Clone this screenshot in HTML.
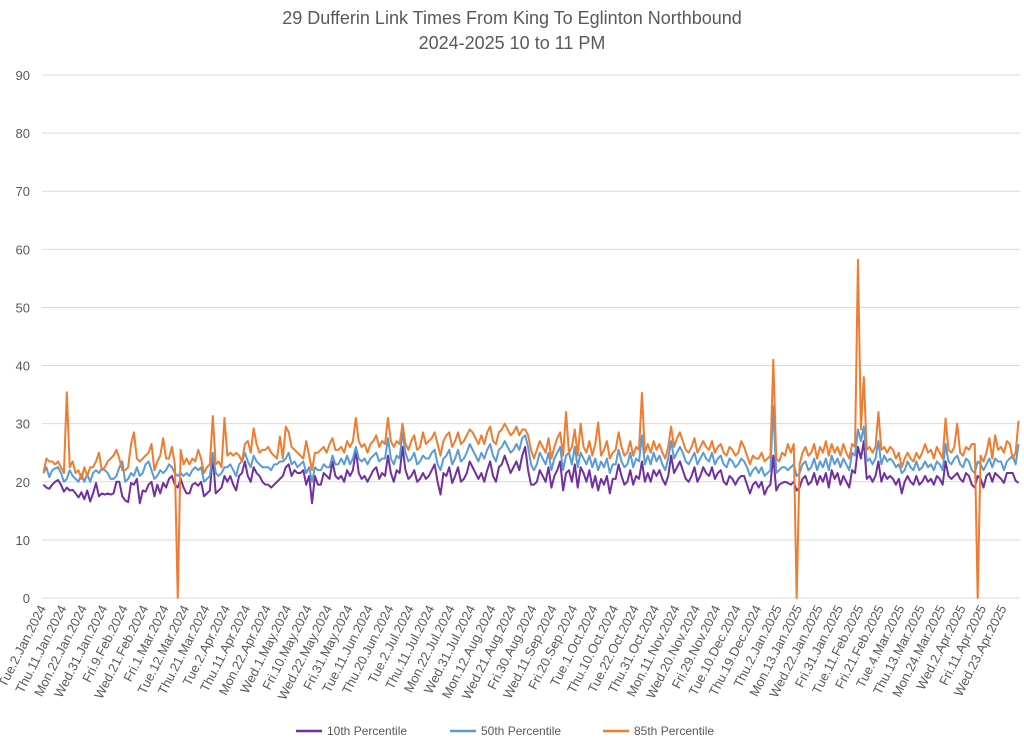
<!DOCTYPE html>
<html><head><meta charset="utf-8"><style>
body{margin:0;background:#fff;}
svg{display:block;font-family:"Liberation Sans",sans-serif;}
</style></head><body>
<svg id="chart" width="1024" height="742"></svg>
<script>
const tickLabels=["Tue.2.Jan.2024","Thu.11.Jan.2024","Mon.22.Jan.2024","Wed.31.Jan.2024","Fri.9.Feb.2024","Wed.21.Feb.2024","Fri.1.Mar.2024","Tue.12.Mar.2024","Thu.21.Mar.2024","Tue.2.Apr.2024","Thu.11.Apr.2024","Mon.22.Apr.2024","Wed.1.May.2024","Fri.10.May.2024","Wed.22.May.2024","Fri.31.May.2024","Tue.11.Jun.2024","Thu.20.Jun.2024","Tue.2.Jul.2024","Thu.11.Jul.2024","Mon.22.Jul.2024","Wed.31.Jul.2024","Mon.12.Aug.2024","Wed.21.Aug.2024","Fri.30.Aug.2024","Wed.11.Sep.2024","Fri.20.Sep.2024","Tue.1.Oct.2024","Thu.10.Oct.2024","Tue.22.Oct.2024","Thu.31.Oct.2024","Mon.11.Nov.2024","Wed.20.Nov.2024","Fri.29.Nov.2024","Tue.10.Dec.2024","Thu.19.Dec.2024","Thu.2.Jan.2025","Mon.13.Jan.2025","Wed.22.Jan.2025","Fri.31.Jan.2025","Tue.11.Feb.2025","Fri.21.Feb.2025","Tue.4.Mar.2025","Thu.13.Mar.2025","Mon.24.Mar.2025","Wed.2.Apr.2025","Fri.11.Apr.2025","Wed.23.Apr.2025"];
const yTicks=[0,10,20,30,40,50,60,70,80,90];
const p10=`19.5 19 18.8 19.5 20 20.3 19.5 18.3 19 18.5 18.6 18 17.3 18.2 17 18.5 16.6 18 19.8 17.5 18 17.8 18 17.8 18 20 20 17.5 16.8 16.5 19.8 19.5 20.5 16.3 18.5 18.3 19.5 20 17.5 19.5 18 19.8 19 20.5 21 19.5 19 20.5 19 18 18 19.5 19.8 19.3 20 17.5 18 18.5 24.5 18 18.5 19 21 20 21 19.5 18.5 21 21.5 23.5 21 20 22.5 21.5 21 20 19.5 19.5 19 19.5 20 20.5 21 22.5 23 21 22 21.5 21.5 22 19.5 21 16.3 21 19.5 19.5 21.5 21 20.5 23.5 21 20.5 21 20 22 21 22 25.5 21.5 20.5 21 20 21 22 22.5 20.5 21.5 21 24.5 21.5 20 22 21.5 26 22 20.5 21 22 20 20.5 21.5 20.5 21 22 23 20 17.8 21.5 21 22.5 19.8 21 22.5 20 20.5 21.5 23.5 22.5 21.5 20.5 21.5 20 22 23.5 21 20 22.5 23 24.5 23 21.5 22.5 23.5 22 24.5 26 22 19.5 19.5 20 22 21 20 22.5 19 21 22 23.5 18.5 21.5 22 20 23 19 22.5 21.5 20 22 19 21 18.5 20.5 19.5 21 18 20.5 20.5 23 21 19.5 20 22 19.5 21 20.5 23.5 20 21.5 20 22 21 22 20.5 19.5 21 24.5 21.5 22.5 23.5 22 20.5 20 21 22.5 20 21 22.5 21.5 21 22.5 20.5 21.5 22 20 19.5 21 20.5 19.5 20.5 21 21 19.5 18 19.5 20 19 20 17.8 19 19.5 24.5 18.5 19.5 19.8 20 19.8 19.5 20 18.5 19 20.5 21 19.5 20 21.5 19.5 21 20 21.5 19 22 20.5 21.5 19.5 21 20 19 22 21.5 26 24 27 20.5 21 20 21 23.5 20 21.5 20.5 21 20.5 19.5 20.5 18 20 21 20 19.5 21 19.5 20 21 20 20.5 19.5 21 20.5 19.5 23.5 21 20.5 21 21.5 20.5 20 21.5 21 19.5 19 21 20.5 19 21 21.5 20 21.5 21 20.5 19.8 21.5 21.5 21.5 20.2 19.8`.split(/\s+/).map(Number);
const p50=`21.5 22.5 20.8 22 22.3 22.5 21.5 20 20.5 22 21 20.5 20 21.3 20 21.3 20 21.5 22 21.5 22.3 22 21.5 20.5 20.5 21 22.5 23.5 20 20.5 21.5 21 22.5 21 21.5 23 23.5 22 20.5 21 22 21.5 22 23 22.5 21.5 21 21.5 21 21.5 21 22 22.5 22 22.5 20 20.5 21 25 21.5 21 21.5 22.5 22.5 23 22 21 23 23.5 25 23.5 22.5 24.5 23.5 23 22.5 22.5 22.5 22 23 23 23.5 23.5 24 25 23 23.5 22.5 23 23.5 21.5 22.5 20 22.5 22 22 23 22.5 22.5 24.5 23 23 24 23 24.5 23 24 26 24 23.5 24 23 24 24.5 25 23.5 24 24 27.5 24 23 24.5 24 28.5 25 23.5 24 25 23 23.5 24.5 24 24 25 25.5 23 22 24 24.5 25.5 23 24 25.5 23.5 24 25 26.5 25.5 24.5 23.5 25 24 25.5 26.5 24.5 23.5 25.5 26 27 26 25 25.5 26.5 25.5 27.5 28 26 23 22 23 25 24 23 25 22 24 25 26 22 24.5 25 23 26 22.5 25 24 23 24.5 22.5 24 22 23.5 22.5 24 21.5 23 23 25.5 23.5 22.5 23 25 22.5 24 23.5 28 23 24.5 23 25 23.5 24.5 23 22 24 27 24 25 26 25 23.5 23 24 25 23 24 25 24 23.5 25 23 24 24.5 23 22.5 24 23.5 22.5 23 24 23.5 22.5 21 22 22.5 21.5 22.5 21 21.5 22 33 21.5 22 22.5 22.5 22 22.5 23 21 21.5 23 23.5 22 22.5 24 22 23.5 22.5 24 22 24.5 23 24 22.5 24 23 22 25 24.5 29 27 29.5 23.5 24 23 24 27 23 24.5 23.5 24 23.5 22.5 23 21.5 22 23.5 22.5 22 23.5 22 22.5 23.5 22.5 23 22 23.5 23 22 26.5 23.5 23 24 24.5 23 22.5 24 23.5 22 21.5 23.5 23 22 23 24 22.5 24 23.5 23.5 22 23.5 24 24.5 23 26.5`.split(/\s+/).map(Number);
const p85=`21.5 24 23.5 23.5 23 23.5 22.5 21.5 35.4 22.5 23.5 21.5 22 20.5 22.5 21 22.5 22.5 23.5 25 22 22.5 23.5 24 24.5 25.5 24 22 22 22.5 26.5 28.5 24 23.5 24 24.5 25 26.5 22 23.5 24.5 27.5 24 24 26 23 0 25.5 23 24 23 24 23.5 25.5 24 21.5 22.5 23 31.3 23 23.5 22.5 31 24.5 25 24.5 25 24.5 23.5 26.5 27 25 29.2 26.5 25 25.5 25.5 26 25 24.5 24 27.8 24 29.5 28.5 26 25.5 25 24.5 24 27 24.5 22 25 25 25.5 26 25 26.5 27.5 25.5 25.5 26 25 27 26 27 31 27 26 26.5 25 26.5 27 28 26 27 26.5 31 27 26 27 26.5 30 26.5 25.5 27 28 25.5 26 28.5 26.5 27 27.5 28.5 26.5 24.5 27 28 28.5 26 27 28.5 26.5 27 28 29 28.5 27.5 26.5 28 26.5 28.5 29.5 27 26.5 28.5 29 30 29 28 28.5 29.5 28 29 29 28 25.5 24 25.5 27 26 25 27.5 24 26 27.5 28.5 24.5 32 25 26 29 24.5 30 26 25 27 24.5 26.5 30.2 24.5 25.5 27 24 25 25.5 28.5 26 24.5 25 27 24.5 26 25.5 35.3 25 26.5 25 27 25.5 26.5 25 24 26 29.5 26 27.5 28.5 27 25.5 25 26 27.5 25 26 27 26 25.5 27 25 26 26.5 25 24.5 26 25.5 24.5 25 27 26 24.5 23 24.5 24 24 25 23.5 24 24.5 41 24 23.5 25 24.5 26.5 25 26.5 0 23 25 26 24.5 25 26.5 24 26 25 27 24.5 26.5 25 26 24.5 26.5 25 24 26.5 26 58.2 29 38 25.5 26 25 26 32 25.5 26 25 26 25.5 24 25 22.5 24 25 24 23.5 25 24 25 26.5 25 25.5 24 26 25 24 30.9 25.5 25 26 30 25 24.5 26 25.5 26.5 26.5 0 24.5 23.5 25 27.5 24 28 25.5 26 25 27 26.5 24 25 30.5`.split(/\s+/).map(Number);

const NS="http://www.w3.org/2000/svg";
const svg=document.getElementById('chart');
const L=42,R=1020,T=75,B=598,N=p10.length,step=(R-L)/N;
const yMax=90;
function xs(i){return L+(i+0.5)*step;}
function ys(v){return B-(v/yMax)*(B-T);}
function mk(tag,attrs,parent){const e=document.createElementNS(NS,tag);for(const k in attrs)e.setAttribute(k,attrs[k]);(parent||svg).appendChild(e);return e;}

let t1=mk('text',{x:512,y:24,'text-anchor':'middle','font-size':18,fill:'#595959'});


t1.textContent='29 Dufferin Link Times From King To Eglinton Northbound';
let t2=mk('text',{x:512,y:49,'text-anchor':'middle','font-size':18,fill:'#595959'});


t2.textContent='2024-2025 10 to 11 PM';

yTicks.forEach(v=>{
  const g=mk('line',{x1:L,x2:R,y1:ys(v),y2:ys(v),stroke:'#d9d9d9','stroke-width':1});
  
  
  const t=mk('text',{x:30,y:ys(v)+5,'text-anchor':'end','font-size':13,fill:'#595959'});
  
  
  t.textContent=v;
});

tickLabels.forEach((s,k)=>{
  const x=xs(k*7)+3,y=608;
  const t=mk('text',{x:x,y:y,'text-anchor':'end','font-size':13,fill:'#595959',transform:`rotate(-63 ${x} ${y})`});
  
  
  t.textContent=s;
});

const series=[[p10,'#7030a0','line-10th-percentile'],[p50,'#5b9bd5','line-50th-percentile'],[p85,'#ed7d31','line-85th-percentile']];
series.forEach(([d,c,n])=>{
  const p=mk('polyline',{points:d.map((v,i)=>xs(i).toFixed(2)+','+ys(v).toFixed(2)).join(' '),fill:'none',stroke:c,'stroke-width':2,'stroke-linejoin':'round'});
  
  
});

const leg=[['10th Percentile','#7030a0',296],['50th Percentile','#5b9bd5',450],['85th Percentile','#ed7d31',603]];
leg.forEach(([s,c,x])=>{
  const g=mk('g',{});
  
  
  mk('line',{x1:x,x2:x+26,y1:731,y2:731,stroke:c,'stroke-width':2.5},g);
  const t=mk('text',{x:x+31,y:735,'font-size':12,fill:'#595959'},g);
  t.textContent=s;
});
</script>
</body></html>
